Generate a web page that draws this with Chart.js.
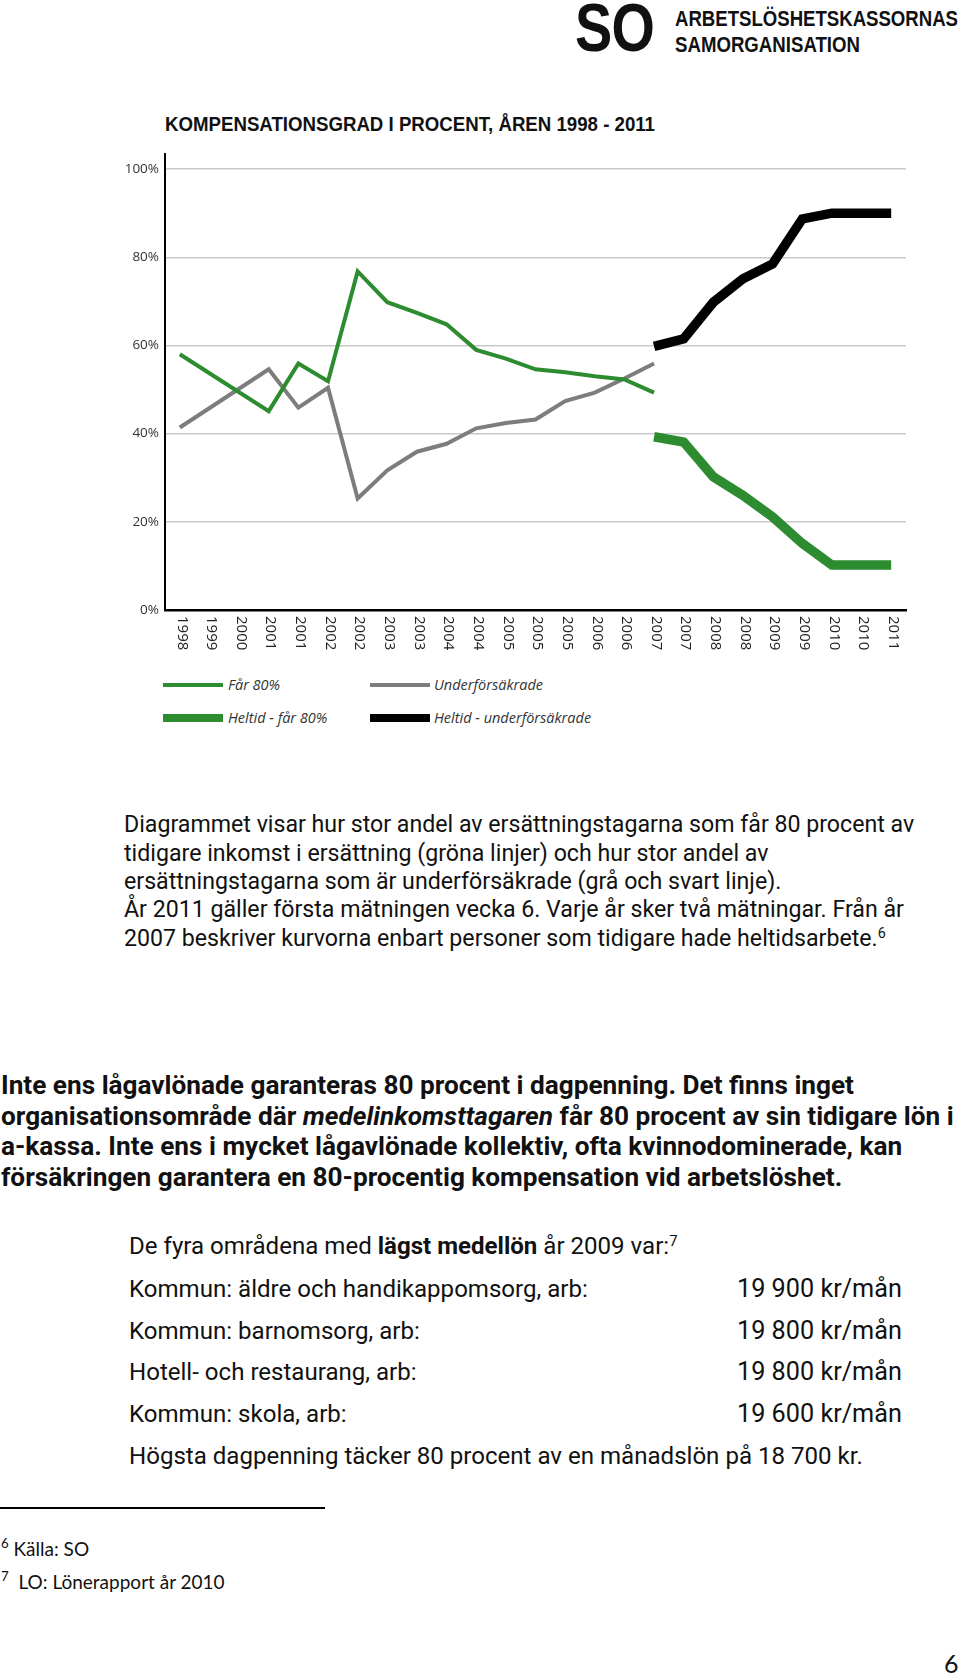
<!DOCTYPE html>
<html>
<head>
<meta charset="utf-8">
<script src="https://cdn.jsdelivr.net/npm/chart.js@4.4.1/dist/chart.umd.min.js"></script>
<style>
  html, body { margin: 0; padding: 0; background: #fff; }
  body { width: 960px; height: 1674px; position: relative; overflow: hidden; color: #111; }
  .abs { position: absolute; white-space: nowrap; }
  .cond { font-family: "Liberation Sans", Arial, sans-serif; font-weight: bold; transform-origin: 0 50%; }
  .txt { font-family: Roboto, "Liberation Sans", sans-serif; line-height: 30px; }
  .txt .l { position: absolute; left: 0; white-space: nowrap; }
  .legend { font-family: "Open Sans", sans-serif; font-style: italic; font-size: 14.5px; color: #333; line-height: 20px; }
  .swatch { position: absolute; width: 60px; }
  sup { font-size: 0.62em; vertical-align: 0.55em; line-height: 0; }
  .foot { font-family: Lato, "Open Sans", sans-serif; font-size: 19px; line-height: 24px; }
  .foot sup { font-size: 0.7em; vertical-align: 0.6em; }
</style>
</head>
<body>

<!-- header -->
<div class="abs cond fitx" data-w="79" style="left:575px; top:-7px; font-size:69px; line-height:70px; letter-spacing:-1px;">SO</div>
<div class="abs cond fitx" data-w="283" style="left:675px; top:4px; font-size:22.5px; line-height:30px;">ARBETSLÖSHETSKASSORNAS</div>
<div class="abs cond fitx" data-w="185" style="left:675px; top:30px; font-size:22px; line-height:30px;">SAMORGANISATION</div>
<div class="abs cond fitx" data-w="490" style="left:165px; top:109px; font-size:21px; line-height:30px;">KOMPENSATIONSGRAD I PROCENT, ÅREN 1998 - 2011</div>

<canvas id="chart" width="960" height="520" style="position:absolute; left:0; top:140px;"></canvas>

<!-- legend -->
<div class="legend">
  <div class="swatch" style="left:163px; top:683px; height:4px; background:#2d8c30;"></div>
  <div class="abs" style="left:228px; top:675px;">Får 80%</div>
  <div class="swatch" style="left:370px; top:683px; height:4px; background:#7d7d7d;"></div>
  <div class="abs" style="left:434px; top:675px;">Underförsäkrade</div>
  <div class="swatch" style="left:163px; top:714px; height:8px; background:#2d8c30;"></div>
  <div class="abs" style="left:228px; top:708px;">Heltid - får 80%</div>
  <div class="swatch" style="left:370px; top:714px; height:8px; background:#000;"></div>
  <div class="abs" style="left:434px; top:708px;">Heltid - underförsäkrade</div>
</div>

<!-- paragraph 1 -->
<div class="abs txt blk" style="left:124px; top:0; font-size:20px;">
  <div class="l ref" data-w="791" style="top:810px;">Diagrammet visar hur stor andel av ersättningstagarna som får 80 procent av</div>
  <div class="l" style="top:839px;">tidigare inkomst i ersättning (gröna linjer) och hur stor andel av</div>
  <div class="l" style="top:867px;">ersättningstagarna som är underförsäkrade (grå och svart linje).</div>
  <div class="l" style="top:895px;">År 2011 gäller första mätningen vecka 6. Varje år sker två mätningar. Från år</div>
  <div class="l" style="top:924px;">2007 beskriver kurvorna enbart personer som tidigare hade heltidsarbete.<sup>6</sup></div>
</div>

<!-- paragraph 2 -->
<div class="abs txt blk" style="left:1px; top:0; font-size:21px; font-weight:bold;">
  <div class="l" style="top:1070px;">Inte ens lågavlönade garanteras 80 procent i dagpenning. Det finns inget</div>
  <div class="l ref" data-w="953" style="top:1101px;">organisationsområde där <i>medelinkomsttagaren</i> får 80 procent av sin tidigare lön i</div>
  <div class="l" style="top:1131px;">a-kassa. Inte ens i mycket lågavlönade kollektiv, ofta kvinnodominerade, kan</div>
  <div class="l" style="top:1162px;">försäkringen garantera en 80-procentig kompensation vid arbetslöshet.</div>
</div>

<!-- paragraph 3 -->
<div class="abs txt blk" style="left:129px; top:0; font-size:21px;">
  <div class="l" style="top:1231px;">De fyra områdena med <b>lägst medellön</b> år 2009 var:<sup>7</sup></div>
  <div class="l ref" data-w="459" style="top:1274px;">Kommun: äldre och handikappomsorg, arb:</div>
  <div class="l" style="top:1316px;">Kommun: barnomsorg, arb:</div>
  <div class="l" style="top:1357px;">Hotell- och restaurang, arb:</div>
  <div class="l" style="top:1399px;">Kommun: skola, arb:</div>
  <div class="l" style="top:1441px;">Högsta dagpenning täcker 80 procent av en månadslön på 18 700 kr.</div>
</div>
<div class="abs txt blk" style="left:737px; top:0; font-size:21px;">
  <div class="l ref" data-w="165" style="top:1274px;">19 900 kr/mån</div>
  <div class="l" style="top:1316px;">19 800 kr/mån</div>
  <div class="l" style="top:1357px;">19 800 kr/mån</div>
  <div class="l" style="top:1399px;">19 600 kr/mån</div>
</div>

<!-- footnotes -->
<div style="position:absolute; left:0; top:1507px; width:325px; height:1.5px; background:#000;"></div>
<div class="abs foot" style="left:1px; top:1537px;"><sup>6</sup> Källa: SO</div>
<div class="abs foot" style="left:1px; top:1570px;"><sup>7</sup>&nbsp; LO: Lönerapport år 2010</div>
<div class="abs foot" style="left:944px; top:1648px; font-size:25px; line-height:30px;">6</div>

<script>
// x-axis categories: two measurements per year
const years = ['1998', '1999', '2000', '2001', '2001', '2002', '2002', '2003', '2003', '2004', '2004', '2005', '2005',
               '2005', '2006', '2006', '2007', '2007', '2008', '2008', '2009', '2009', '2010', '2010', '2011'];

const far80 = [58.0, null, null, 45.1, 55.9, 51.9, 76.8, 69.8, 67.4, 64.8, 59.0, 57.0, 54.6,
               53.9, 53.0, 52.3, 49.3, null, null, null, null, null, null, null, null];
const underforsakrade = [41.4, null, null, 54.6, 45.9, 50.4, 25.3, 31.7, 35.9, 37.7, 41.2, 42.4, 43.2,
                         47.4, 49.3, 52.5, 55.9, null, null, null, null, null, null, null, null];
const heltidFar80 = [null, null, null, null, null, null, null, null, null, null, null, null, null,
                     null, null, null, 39.3, 38.1, 30.2, 26.0, 21.1, 15.1, 10.2, 10.2, 10.2];
const heltidUnder = [null, null, null, null, null, null, null, null, null, null, null, null, null,
                     null, null, null, 59.8, 61.5, 69.8, 75.1, 78.5, 88.7, 90.0, 90.0, 90.0];

const yTicks = [0, 20, 40, 60, 80, 100];

const GREEN = '#2d8c30';
const GREY = '#7d7d7d';

// condensed headings: squeeze horizontally to the measured width
document.querySelectorAll('.fitx').forEach(el => {
    el.style.transform = 'scaleX(' + (el.dataset.w / el.getBoundingClientRect().width) + ')';
});
// text blocks: pick the font size that gives the measured line width
document.querySelectorAll('.blk').forEach(blk => {
    const ref = blk.querySelector('.ref');
    const fs = parseFloat(getComputedStyle(blk).fontSize);
    blk.style.fontSize = (fs * ref.dataset.w / ref.getBoundingClientRect().width) + 'px';
});

// x labels read top-to-bottom, so draw them ourselves
const verticalLabels = {
    id: 'verticalLabels',
    afterDraw(chart) {
        const xs = chart.scales.x;
        const ctx = chart.ctx;
        ctx.save();
        ctx.font = '15px "Open Sans"';
        ctx.fillStyle = '#222';
        ctx.textAlign = 'left';
        ctx.textBaseline = 'middle';
        years.forEach((label, i) => {
            ctx.save();
            ctx.translate(xs.getPixelForTick(i) + 2, xs.top + 6);
            ctx.rotate(Math.PI / 2);
            ctx.fillText(label, 0, 0);
            ctx.restore();
        });
        ctx.restore();
    }
};

function line(label, data, color, width, spanGaps) {
    return {
        label,
        data,
        borderColor: color,
        backgroundColor: color,
        borderWidth: width,
        pointRadius: 0,
        tension: 0,
        spanGaps,
        borderJoinStyle: 'miter',
        borderCapStyle: 'butt'
    };
}

new Chart(document.getElementById('chart').getContext('2d'), {
    type: 'line',
    data: {
        labels: years,
        datasets: [
            line('Får 80%', far80, GREEN, 4, true),
            line('Underförsäkrade', underforsakrade, GREY, 4, true),
            line('Heltid - får 80%', heltidFar80, GREEN, 9.5, false),
            line('Heltid - underförsäkrade', heltidUnder, '#000', 9.5, false)
        ]
    },
    options: {
        responsive: false,
        animation: false,
        devicePixelRatio: 1,
        layout: { padding: { left: 0, right: 54, top: 13, bottom: 0 } },
        plugins: { legend: { display: false }, tooltip: { enabled: false } },
        scales: {
            x: {
                offset: true,
                grid: { display: false, drawTicks: false },
                border: { color: '#000', width: 2.5 },
                ticks: { display: false },
                afterFit(scale) { scale.height = 50; }
            },
            y: {
                min: 0,
                max: 103.4,
                afterBuildTicks(scale) { scale.ticks = yTicks.map(v => ({ value: v })); },
                grid: { color: '#cacaca', lineWidth: 1.5, drawTicks: false },
                border: { color: '#000', width: 2 },
                ticks: {
                    padding: 6,
                    color: '#333',
                    font: { family: 'Open Sans', size: 13.5 },
                    callback: v => v + '%'
                },
                afterFit(scale) { scale.width = 165; }
            }
        }
    },
    plugins: [verticalLabels]
});
</script>
</body>
</html>
